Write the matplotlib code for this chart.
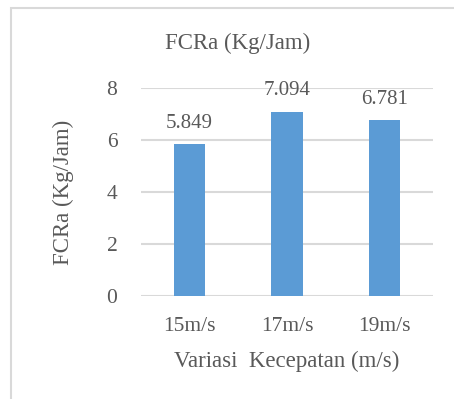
import matplotlib
matplotlib.use("Agg")
import matplotlib.pyplot as plt
from matplotlib.patches import Rectangle

categories = ["15m/s", "17m/s", "19m/s"]
values = [5.849, 7.094, 6.781]
value_labels = ["5.849", "7.094", "6.781"]
yticks = [0, 2, 4, 6, 8]

W, H = 454, 399
fig = plt.figure(figsize=(W / 100, H / 100), dpi=100)
plt.rcParams['font.family'] = ['Liberation Serif', 'DejaVu Serif']
grey = '#595959'

ax = fig.add_axes([141 / W, 1 - 296 / H, (433 - 141) / W, (296 - 88) / H])
x = list(range(len(categories)))
ax.bar(x, values, width=0.32, color='#5b9bd5', zorder=3)
ax.set_xlim(-0.5, 2.5)
ax.set_ylim(0, 8)
ax.set_yticks(yticks)
ax.set_yticklabels([str(t) for t in yticks])
ax.set_xticks(x)
ax.set_xticklabels(categories)
ax.grid(axis='y', color='#d9d9d9', linewidth=1.5, zorder=0)
for s in ax.spines.values():
    s.set_visible(False)
ax.tick_params(length=0, labelsize=15.5, labelcolor=grey)
ax.tick_params(axis='y', pad=17)
ax.tick_params(axis='x', pad=15)
for xi, v, lab in zip(x, values, value_labels):
    ax.annotate(lab, (xi, v), xytext=(0, 8), textcoords='offset points',
                ha='center', va='bottom', fontsize=15, color=grey)

fig.text(238 / W, 1 - 43 / H, "FCRa (Kg/Jam)", ha='center', va='center', fontsize=16.5, color=grey)
fig.text(63 / W, 1 - 192 / H, "FCRa (Kg/Jam)", ha='center', va='center', rotation=90, fontsize=16.5, color=grey)
fig.text(287 / W, 1 - 361 / H, "Variasi  Kecepatan (m/s)", ha='center', va='center', fontsize=16.5, color=grey)

fig.patches.append(Rectangle((11 / W, -0.1), 1.2, 1 - 8 / H + 0.1, transform=fig.transFigure,
                             fill=False, edgecolor='#d9d9d9', linewidth=1.5))

fig.savefig("out.png", dpi=100)
